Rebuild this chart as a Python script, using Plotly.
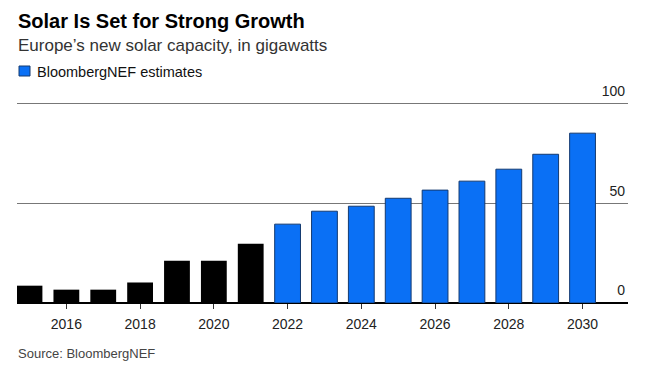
import plotly.graph_objects as go

years_hist = [2015, 2016, 2017, 2018, 2019, 2020, 2021]
values_hist = [8.7, 6.7, 6.7, 10.3, 21.2, 21.2, 29.8]
years_est = [2022, 2023, 2024, 2025, 2026, 2027, 2028, 2029, 2030]
values_est = [39.6, 46.1, 48.6, 52.6, 56.7, 61.2, 67.2, 74.7, 85.3]
y_ticks = [0, 50, 100]
x_ticks = [2016, 2018, 2020, 2022, 2024, 2026, 2028, 2030]

W, H = 655, 378
L, R, T, B = 17, 27, 80, 75
PW, PH = W - L - R, H - T - B


def px(x):
    return (x - L) / PW


def py(y):
    return (H - B - y) / PH


BLUE = "#0A70F5"
FONT = "Liberation Sans, Arial, sans-serif"

fig = go.Figure()
fig.add_trace(go.Bar(x=years_hist, y=values_hist, marker=dict(color="#000000", line=dict(width=0)),
                     showlegend=False, name="Historical"))
fig.add_trace(go.Bar(x=years_est, y=values_est,
                     marker=dict(color=BLUE, line=dict(color="#143A70", width=1)),
                     name="BloombergNEF estimates", showlegend=False))

fig.update_layout(
    width=W, height=H,
    margin=dict(l=L, r=R, t=T, b=B, autoexpand=False),
    paper_bgcolor="white", plot_bgcolor="white",
    bargap=0.3,
    font=dict(family=FONT, color="#333333"),
    showlegend=False,
    xaxis=dict(range=[2014.661, 2031.233], tickmode="array", tickvals=x_ticks,
               ticktext=[str(v) for v in x_ticks],
               ticks="outside", ticklen=5, tickwidth=1, tickcolor="#333333",
               tickfont=dict(size=14, color="#222222"), ticklabelstandoff=3,
               showgrid=False, showline=False, zeroline=False, fixedrange=True),
    yaxis=dict(range=[0, 112], side="right", tickmode="array", tickvals=y_ticks,
               ticktext=[str(v) for v in y_ticks],
               ticklabelposition="inside top", ticks="", ticklabelshift=-3,
               tickfont=dict(size=14, color="#222222"),
               showgrid=True, gridcolor="#777777", gridwidth=1.3,
               zeroline=True, zerolinecolor="#000000", zerolinewidth=1.8,
               showline=False, fixedrange=True),
    shapes=[
        dict(type="rect", xref="paper", yref="paper", x0=px(19), x1=px(30), y0=py(76), y1=py(66),
             fillcolor=BLUE, line=dict(color="#143A70", width=1)),
    ],
    annotations=[
        dict(text="<b>Solar Is Set for Strong Growth</b>", x=px(15.5), xref="paper", xanchor="left",
             y=py(21), yref="paper", yanchor="middle", showarrow=False,
             font=dict(size=20, color="#000000", family=FONT)),
        dict(text="Europe\u2019s new solar capacity, in gigawatts", x=px(15.5), xref="paper", xanchor="left",
             y=py(45), yref="paper", yanchor="middle", showarrow=False,
             font=dict(size=17, color="#333333", family=FONT)),
        dict(text="BloombergNEF estimates", x=px(34.5), xref="paper", xanchor="left",
             y=py(71.5), yref="paper", yanchor="middle", showarrow=False,
             font=dict(size=14.5, color="#111111", family=FONT)),
        dict(text="Source: BloombergNEF", x=px(15.5), xref="paper", xanchor="left",
             y=py(353), yref="paper", yanchor="middle", showarrow=False,
             font=dict(size=13, color="#444444", family=FONT)),
    ],
)

fig.write_html("out.html", config={"displayModeBar": False},
               post_script="document.body.style.margin='0';")
